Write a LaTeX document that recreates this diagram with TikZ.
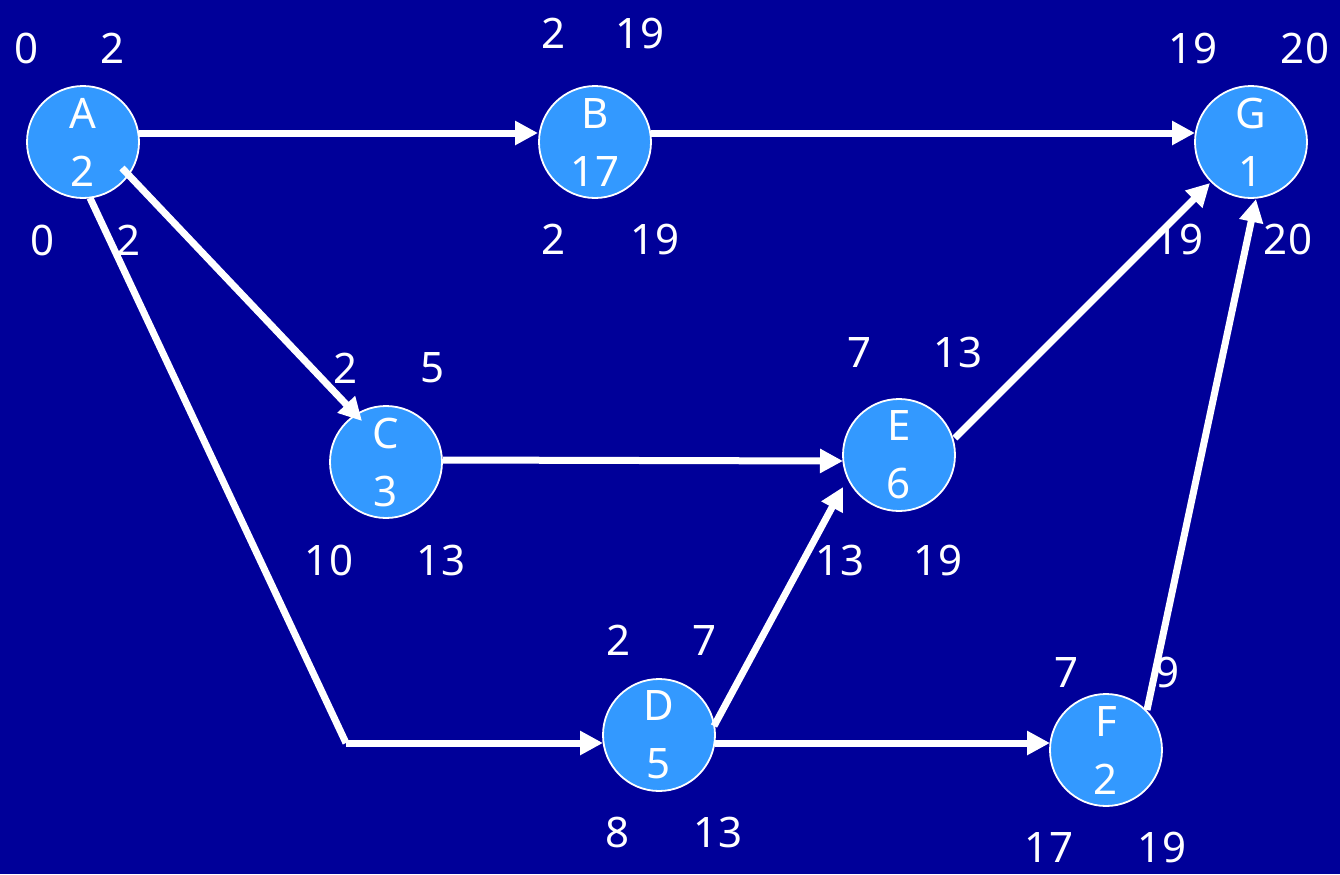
\documentclass[tikz,border=0pt]{standalone}
\usepackage{fontspec}
\setmainfont{Noto Sans}
\usetikzlibrary{arrows.meta,calc}
\definecolor{bg}{RGB}{0,0,153}
\definecolor{nodefill}{RGB}{51,153,255}
\begin{document}
\begin{tikzpicture}[x=0.5pt,y=-0.5pt,
  circ/.style={circle,draw=white,line width=0.9pt,fill=nodefill,minimum size=56pt,inner sep=0pt,
    text=white,align=center,font=\fontsize{21}{29}\selectfont},
  lbl/.style={text=white,inner sep=0pt,font=\fontsize{21}{25}\selectfont},
  edge/.style={draw=white,line width=3.5pt,-{Triangle[length=11.5pt,width=11.5pt]}},
  plain/.style={draw=white,line width=3.5pt}]
\fill[bg] (0,0) rectangle (1340,874);
\useasboundingbox (0,0) rectangle (1340,874);
% nodes
\node[circ] (A) at (83,142) {A\\2};
\node[circ] (B) at (595,142) {B\\17};
\node[circ] (G) at (1251,142) {G\\1};
\node[circ] (C) at (386,462) {C\\3};
\node[circ] (E) at (899,455) {E\\6};
\node[circ] (D) at (659,735) {D\\5};
\node[circ] (F) at (1106,750) {F\\2};
\coordinate (corner) at (346,743);
% edges
\draw[edge] ($(A)+(56,-9)$) -- ($(B)+(-57,-9)$);
\draw[edge] ($(B)+(56,-9)$) -- ($(G)+(-56,-9)$);
\draw[edge] ($(A)+(39,26)$) -- ($(C)+(-24,-41)$);
\draw[plain,line join=bevel] ($(A)+(7,56)$) -- (corner);
\draw[edge] (corner) -- ($(D)+(-56,8)$);
\draw[edge] ($(C)+(57,-2)$) -- ($(E)+(-56,6)$);
\draw[edge] ($(D)+(55,-9)$) -- ($(E)+(-56,32)$);
\draw[edge] ($(D)+(56,8)$) -- ($(F)+(-56,-7)$);
\draw[edge] ($(F)+(41,-40)$) -- ($(G)+(5,57)$);
\draw[edge] ($(E)+(56,-17)$) -- ($(G)+(-41,41)$);
% labels
\node[lbl] (A1) at (27,48) {0};
\node[lbl] (A2) at (113,48) {2};
\node[lbl] (A3) at (43,240) {0};
\node[lbl] (A4) at (129,240) {2};
\node[lbl] (B1) at (554,33) {2};
\node[lbl] (B2) at (640,33) {19};
\node[lbl] (B3) at (554,239) {2};
\node[lbl] (B4) at (655,239) {19};
\node[lbl] (G1) at (1193,48) {19};
\node[lbl] (G2) at (1305,48) {20};
\node[lbl] (G3) at (1179,239) {19};
\node[lbl] (G4) at (1288,239) {20};
\node[lbl] (C1) at (346,368) {2};
\node[lbl] (C2) at (433,368) {5};
\node[lbl] (C3) at (329,560) {10};
\node[lbl] (C4) at (441,560) {13};
\node[lbl] (E1) at (860,352) {7};
\node[lbl] (E2) at (958,352) {13};
\node[lbl] (E3) at (840,560) {13};
\node[lbl] (E4) at (938,560) {19};
\node[lbl] (D1) at (619,640) {2};
\node[lbl] (D2) at (705,640) {7};
\node[lbl] (D3) at (618,832) {8};
\node[lbl] (D4) at (718,832) {13};
\node[lbl] (F1) at (1067,672) {7};
\node[lbl] (F2) at (1168,672) {9};
\node[lbl] (F3) at (1049,847) {17};
\node[lbl] (F4) at (1162,847) {19};
\end{tikzpicture}
\end{document}
